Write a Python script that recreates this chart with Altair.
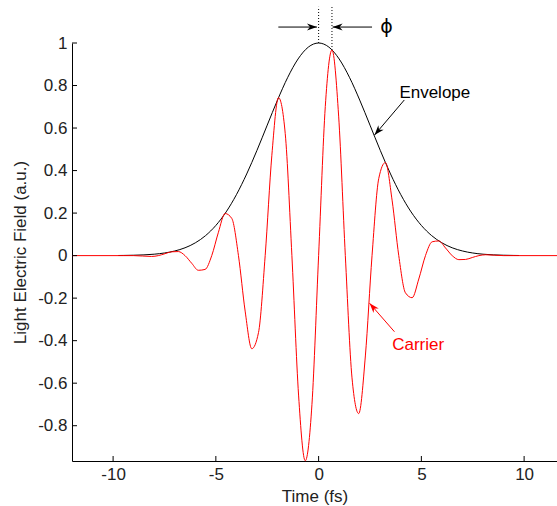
import altair as alt
import pandas as pd

# ---------------- data ----------------
env_t = [-9.75, -9.5, -9.0, -8.5, -8.0, -7.5, -7.0, -6.5, -6.0, -5.5, -5.0, -4.5,
         -4.0, -3.5, -3.0, -2.5, -2.0, -1.5, -1.0, -0.5, 0.0, 0.5, 1.0, 1.5, 2.0,
         2.5, 3.0, 3.5, 4.0, 4.5, 5.0, 5.5, 6.0, 6.5, 7.0, 7.5, 8.0, 8.5, 9.0, 9.5, 9.75]
env_v = [0.0006, 0.0009, 0.0018, 0.0035, 0.0067, 0.0123, 0.0218, 0.0368, 0.0601,
         0.0941, 0.1419, 0.2055, 0.2865, 0.3840, 0.4950, 0.6137, 0.7316, 0.8388,
         0.9249, 0.9807, 1.0, 0.9807, 0.9249, 0.8388, 0.7316, 0.6137, 0.4950,
         0.3840, 0.2865, 0.2055, 0.1419, 0.0941, 0.0601, 0.0368, 0.0218, 0.0123,
         0.0067, 0.0035, 0.0018, 0.0009, 0.0006]

car_t = [-12.0, -9.0, -8.125, -7.8, -7.475, -7.15, -6.825, -6.5, -6.175, -5.85,
         -5.525, -5.2, -4.875, -4.55, -4.225, -3.9, -3.575, -3.25, -2.925, -2.6,
         -2.275, -1.95, -1.625, -1.3, -0.975, -0.65, -0.325, 0.0, 0.325, 0.65,
         0.975, 1.3, 1.625, 1.95, 2.275, 2.6, 2.925, 3.25, 3.575, 3.9, 4.225,
         4.55, 4.875, 5.2, 5.525, 5.85, 6.175, 6.5, 6.825, 7.15, 7.475, 7.8,
         8.125, 9.0, 11.6]
car_v = [0.0, 0.0, -0.004, 0.0, 0.009, 0.018, 0.019, 0.0, -0.036, -0.069,
         -0.065, 0.0, 0.110, 0.198, 0.175, 0.0, -0.261, -0.438, -0.362, 0.0,
         0.472, 0.743, 0.575, 0.0, -0.656, -0.965, -0.701, 0.0, 0.701, 0.967,
         0.656, 0.0, -0.575, -0.743, -0.472, 0.0, 0.362, 0.438, 0.261, 0.0,
         -0.175, -0.198, -0.110, 0.0, 0.065, 0.069, 0.036, 0.0, -0.019, -0.018,
         -0.009, 0.0, 0.004, 0.0, 0.0]

x_ticks = [-10, -5, 0, 5, 10]
y_ticks = [-0.8, -0.6, -0.4, -0.2, 0, 0.2, 0.4, 0.6, 0.8, 1]

# annotations
labels = ["Envelope", "Carrier"]
label_t = [3.93, 3.58]
label_y = [0.767, -0.42]
label_c = ["black", "red"]

phi_text = ["\u03d5"]
phi_t = [3.3]
phi_y = [1.075]

arrow_t0 = [-1.96, 2.60, 4.17, 3.69]
arrow_y0 = [1.075, 1.075, 0.732, -0.358]
arrow_t1 = [-0.08, 0.68, 2.72, 2.48]
arrow_y1 = [1.075, 1.075, 0.567, -0.224]
arrow_ang = [90, 270, 220.4, 318.9]
arrow_c = ["black", "black", "black", "red"]

dot_t = [0.0, 0.65]
dot_y0 = [1.0, 0.967]
dot_y1 = [1.17, 1.17]

XD = [-12, 11.6]
YD = [-0.966, 1.0]
W, H = 485, 418
FONT = "Liberation Sans"

xs = alt.Scale(domain=XD, nice=False, zero=False)
ys = alt.Scale(domain=YD, nice=False, zero=False)

env_df = pd.DataFrame({"t": env_t, "v": env_v})
car_df = pd.DataFrame({"t": car_t, "v": car_v})

x_axis = alt.Axis(values=x_ticks, ticks=False, grid=False, domainColor="black",
                  labelFontSize=17, labelFont=FONT, labelColor="#222",
                  labelPadding=5, labelExpr="datum.value + ''",
                  title="Time (fs)", titleFont=FONT,
                  titleFontSize=17, titleFontWeight="normal", titleColor="#222",
                  titlePadding=6, labelFlush=False)
y_axis = alt.Axis(values=y_ticks, ticks=False, grid=False, domainColor="black",
                  labelFontSize=17, labelFont=FONT, labelColor="#222",
                  labelPadding=5, labelExpr="datum.value + ''",
                  title="Light Electric Field (a.u.)", titleFont=FONT,
                  titleFontSize=17, titleFontWeight="normal", titleColor="#222",
                  titlePadding=8, labelFlush=False)

envelope = alt.Chart(env_df).mark_line(color="black", strokeWidth=1,
                                       interpolate="monotone").encode(
    x=alt.X("t:Q", scale=xs, axis=x_axis),
    y=alt.Y("v:Q", scale=ys, axis=y_axis),
)
carrier = alt.Chart(car_df).mark_line(color="red", strokeWidth=1,
                                      interpolate="monotone").encode(
    x=alt.X("t:Q", scale=xs),
    y=alt.Y("v:Q", scale=ys),
)

xt = alt.Chart(pd.DataFrame({"t": x_ticks})).mark_rule(color="black").encode(
    x=alt.X("t:Q", scale=xs), y=alt.value(H), y2=alt.value(H - 5))
yt = alt.Chart(pd.DataFrame({"v": y_ticks})).mark_rule(color="black").encode(
    y=alt.Y("v:Q", scale=ys), x=alt.value(0), x2=alt.value(5))

dots = alt.Chart(pd.DataFrame({"t": dot_t, "y0": dot_y0, "y1": dot_y1})).mark_rule(
    color="black", strokeDash=[1, 2], strokeWidth=1).encode(
    x=alt.X("t:Q", scale=xs), y=alt.Y("y0:Q", scale=ys), y2="y1:Q")

arr_df = pd.DataFrame({"t0": arrow_t0, "y0": arrow_y0, "t1": arrow_t1,
                       "y1": arrow_y1, "ang": arrow_ang, "c": arrow_c})
arr_lines = alt.Chart(arr_df).mark_rule(strokeWidth=1).encode(
    x=alt.X("t0:Q", scale=xs), y=alt.Y("y0:Q", scale=ys),
    x2="t1:Q", y2="y1:Q",
    color=alt.Color("c:N", scale=None))
arr_heads = alt.Chart(arr_df).mark_point(
    shape="M0,0L-0.35,1L0,0.7L0.35,1Z", filled=True, size=400, opacity=1,
    strokeWidth=0).encode(
    x=alt.X("t1:Q", scale=xs), y=alt.Y("y1:Q", scale=ys),
    angle=alt.Angle("ang:Q", scale=None),
    color=alt.Color("c:N", scale=None))

txt = alt.Chart(pd.DataFrame({"s": labels, "t": label_t, "y": label_y, "c": label_c})).mark_text(
    align="left", baseline="middle", fontSize=17, font=FONT).encode(
    x=alt.X("t:Q", scale=xs), y=alt.Y("y:Q", scale=ys), text="s:N",
    color=alt.Color("c:N", scale=None))
phi = alt.Chart(pd.DataFrame({"s": phi_text, "t": phi_t, "y": phi_y})).mark_text(
    align="center", baseline="middle", fontSize=19, font="DejaVu Sans", color="black").encode(
    x=alt.X("t:Q", scale=xs), y=alt.Y("y:Q", scale=ys), text="s:N")

chart = alt.layer(envelope, carrier, xt, yt, dots, arr_lines, arr_heads, txt, phi).properties(
    width=W, height=H,
    background="white",
    autosize=alt.AutoSizeParams(type="none"),
    padding={"left": 72, "top": 43, "right": 0, "bottom": 45},
).configure_view(strokeWidth=0, stroke="transparent").configure_axis(grid=False)

chart.save("out.html", embed_options={"renderer": "svg", "actions": False})
